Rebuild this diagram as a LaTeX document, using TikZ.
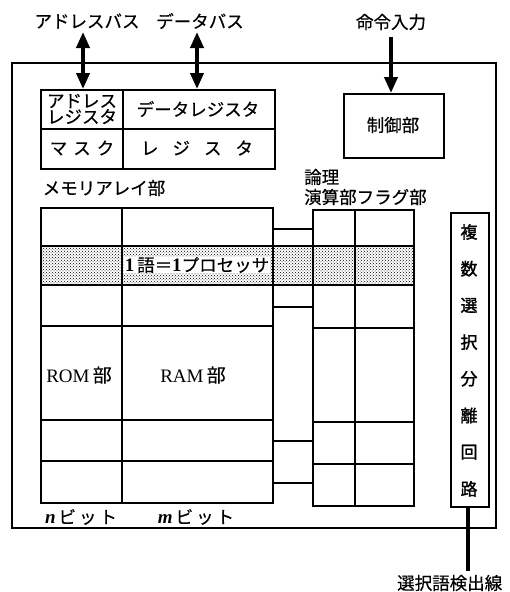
\documentclass[tikz,border=0pt]{standalone}
\usepackage{fontspec}
\setmainfont{Liberation Serif}
\newfontfamily\jp[FakeBold=0.4]{Noto Sans CJK JP}
\newfontfamily\jpb[FakeBold=1.6]{Noto Sans CJK JP}
\usetikzlibrary{arrows.meta,patterns}
\begin{document}
\begin{tikzpicture}[x=1pt,y=-1pt,
  frame/.style={line width=1.8pt},
  cell/.style={line width=1.6pt},
  thin/.style={line width=1.1pt},
  bus/.style={line width=3.8pt,{Triangle[length=16pt,width=13pt]}-{Triangle[length=16pt,width=13pt]}},
  cmd/.style={line width=3.8pt,-{Triangle[length=16pt,width=13pt]}},
  lbl/.style={font=\jp\fontsize{17.5}{18}\selectfont,inner sep=0pt},
  box/.style={draw,line width=1.6pt,inner sep=0pt,rectangle}
]
\useasboundingbox (0,0) rectangle (509,592);
% outer frame
\draw[frame] (12,63) rectangle (496,528);

% top labels
\node[lbl] (abusl) at (87,21) {アドレスバス};
\node[lbl] (dbusl) at (200,21) {データバス};
\node[lbl] (cmdl) at (391,22) {命令入力};

% register box
\node[box,minimum width=234pt,minimum height=79pt,anchor=north west] (reg) at (40,89) {};
\draw[cell] (123,89) -- (123,168);
\draw[cell] (40,129) -- (274,129);
\node[lbl,align=center] (areg) at (82,109) {アドレス\\[-2pt]レジスタ};
\node[lbl] (dreg) at (198,109) {データレジスタ};
\node[lbl] (mask) at (82,148) {マ\hspace{6pt}ス\hspace{6pt}ク};
\node[lbl] (rreg) at (197,148) {レ\hspace{14pt}ジ\hspace{14pt}ス\hspace{14pt}タ};

\coordinate (abtop) at (83,32);
\coordinate (abbot) at (83,89);
\coordinate (dbtop) at (197,32);
\coordinate (dbbot) at (197,89);
\draw[bus] (abtop) -- (abbot);
\draw[bus] (dbtop) -- (dbbot);

% control unit
\node[box,minimum width=100pt,minimum height=64pt,anchor=north west] (ctrl) at (343,93) {};
\node[lbl] (ctrll) at (393,125) {制御部};
\coordinate (cmdtop) at (391,37);
\draw[cmd] (cmdtop) -- (ctrl.north -| cmdtop);

% labels
\node[lbl] (meml) at (104,188) {メモリアレイ部};
\node[lbl,anchor=west] (logl1) at (304,177) {論理};
\node[lbl,anchor=west] (logl2) at (304,197) {演算部フラグ部};

% shaded band
\fill[pattern=crosshatch dots,pattern color=black] (40,246) rectangle (413,285);

% memory array
\node[box,minimum width=232pt,minimum height=295pt,anchor=north west] (mem) at (40,207) {};
\draw[cell] (122,207) -- (122,502);
\foreach \y in {246,285,326,420,461} \draw[cell] (40,\y) -- (272,\y);
\draw[line width=2.6pt] (40,246) -- (413,246);
\draw[line width=2.6pt] (40,285) -- (413,285);

% logic / flag unit
\node[box,minimum width=101pt,minimum height=296pt,anchor=north west] (logic) at (312,209) {};
\draw[cell] (355,209) -- (355,505);
\foreach \y in {246,285,328,422,464} \draw[cell] (312,\y) -- (413,\y);

% connections memory - logic
\foreach \y in {229,307,441,483} \draw[thin] (272,\y) -- (312,\y);

\node[lbl,fill=white,inner xsep=1pt,inner ysep=0pt] (word) at (197,265) {{\rmfamily\bfseries\fontsize{19}{19}\selectfont 1}\,語＝{\rmfamily\bfseries\fontsize{19}{19}\selectfont 1}プロセッサ};

\node[lbl] (rom) at (79,375) {\rmfamily\fontsize{19}{19}\selectfont ROM\,{\jp 部}};
\node[lbl] (ram) at (193,375) {\rmfamily\fontsize{19}{19}\selectfont RAM\,{\jp 部}};
\node[lbl] (nbit) at (81,517) {{\rmfamily\bfseries\itshape\fontsize{19}{19}\selectfont n}\,ビ\hspace{3pt}ッ\hspace{3pt}ト};
\node[lbl] (mbit) at (196,517) {{\rmfamily\bfseries\itshape\fontsize{19}{19}\selectfont m}\,ビ\hspace{3pt}ッ\hspace{3pt}ト};

% selector circuit
\node[box,minimum width=38pt,minimum height=294pt,anchor=north west] (sel) at (450,212) {};
\foreach \c [count=\i from 0] in {複,数,選,択,分,離,回,路}
  \node[lbl,font=\jpb\fontsize{17}{17}\selectfont] (s\i) at (469,{232+\i*36.7}) {\c};
\coordinate (outend) at (468,571);
\draw[line width=3.8pt] (sel.south -| outend) -- (outend);
\node[lbl,anchor=west] (outl) at (397,583) {選択語検出線};
\end{tikzpicture}
\end{document}
